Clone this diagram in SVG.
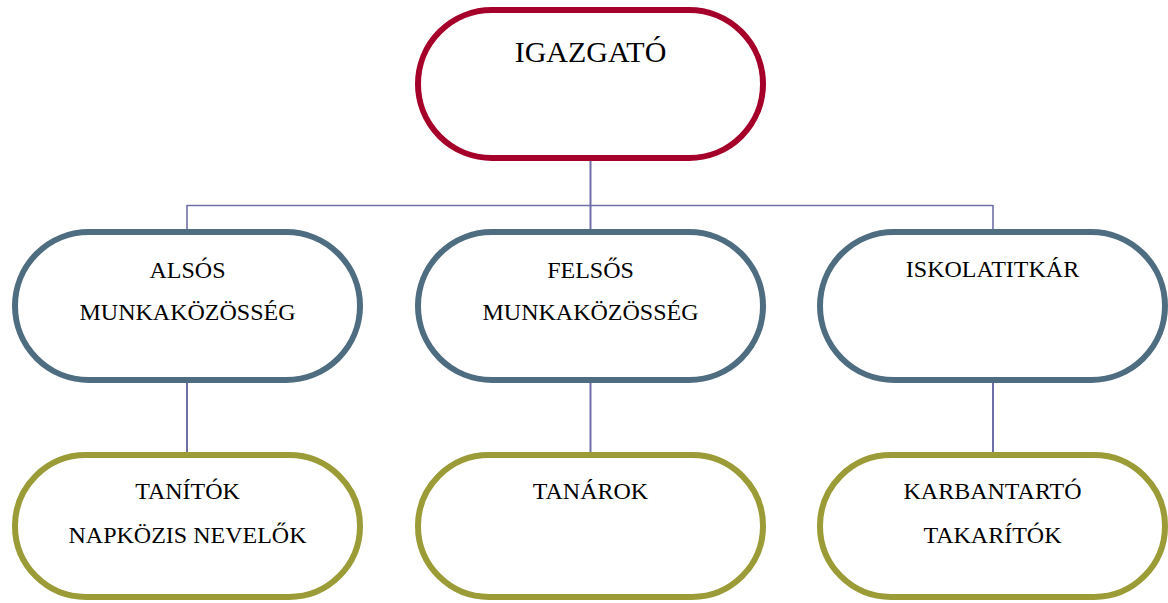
<svg xmlns="http://www.w3.org/2000/svg" width="1168" height="603" viewBox="0 0 1168 603">
  <style>
    .box { fill: #ffffff; stroke-width: 6; }
    .top { stroke: #a5002a; }
    .mid { stroke: #4e6d80; }
    .low { stroke: #9b9b37; }
    .lbl { font-family: "Liberation Serif", "Times New Roman", serif; font-size: 24px; fill: #000000; text-anchor: middle; }
    .big { font-size: 30px; }
    .wire { stroke: #6f6fa8; stroke-width: 1.6; fill: none; }
  </style>

  <!-- connectors -->
  <g id="connectors">
    <line class="wire" x1="590.5" y1="161" x2="590.5" y2="229" style="stroke-width:2"/>
    <line class="wire" x1="187" y1="205.5" x2="993" y2="205.5"/>
    <line class="wire" x1="187" y1="205" x2="187" y2="229"/>
    <line class="wire" x1="993" y1="205" x2="993" y2="229"/>
    <line class="wire" x1="187" y1="383" x2="187" y2="452" style="stroke-width:2"/>
    <line class="wire" x1="590.5" y1="383" x2="590.5" y2="452" style="stroke-width:2"/>
    <line class="wire" x1="993" y1="383" x2="993" y2="452" style="stroke-width:2"/>
  </g>

  <!-- top level -->
  <g id="igazgato">
    <rect class="box top" x="418" y="10" width="345" height="148" rx="74" ry="74"/>
    <text class="lbl big" x="590.5" y="62">IGAZGATÓ</text>
  </g>

  <!-- second level -->
  <g id="also-munkakozosseg">
    <rect class="box mid" x="15" y="232" width="345" height="148" rx="74" ry="74"/>
    <text class="lbl" x="187.5" y="278">ALSÓS</text>
    <text class="lbl" x="187.5" y="320">MUNKAKÖZÖSSÉG</text>
  </g>
  <g id="felso-munkakozosseg">
    <rect class="box mid" x="418" y="232" width="345" height="148" rx="74" ry="74"/>
    <text class="lbl" x="590.5" y="278">FELSŐS</text>
    <text class="lbl" x="590.5" y="320">MUNKAKÖZÖSSÉG</text>
  </g>
  <g id="iskolatitkar">
    <rect class="box mid" x="820" y="232" width="345" height="148" rx="74" ry="74"/>
    <text class="lbl" x="992.5" y="277">ISKOLATITKÁR</text>
  </g>

  <!-- third level -->
  <g id="tanitok">
    <rect class="box low" x="15" y="455" width="345" height="142" rx="71" ry="71"/>
    <text class="lbl" x="187.5" y="499">TANÍTÓK</text>
    <text class="lbl" x="187.5" y="543">NAPKÖZIS NEVELŐK</text>
  </g>
  <g id="tanarok">
    <rect class="box low" x="418" y="455" width="345" height="142" rx="71" ry="71"/>
    <text class="lbl" x="590.5" y="499">TANÁROK</text>
  </g>
  <g id="karbantarto">
    <rect class="box low" x="820" y="455" width="345" height="142" rx="71" ry="71"/>
    <text class="lbl" x="992.5" y="499">KARBANTARTÓ</text>
    <text class="lbl" x="992.5" y="543">TAKARÍTÓK</text>
  </g>
</svg>
